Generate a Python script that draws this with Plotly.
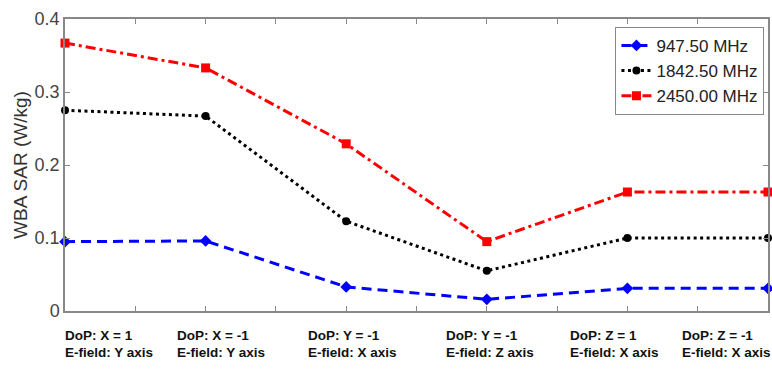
import plotly.graph_objects as go

categories = [0, 1, 2, 3, 4, 5]
label_line1 = ["DoP: X = 1", "DoP: X = -1", "DoP: Y = -1", "DoP: Y = -1", "DoP: Z = 1", "DoP: Z = -1"]
label_line2 = ["E-field: Y axis", "E-field: Y axis", "E-field: X axis", "E-field: Z axis", "E-field: X axis", "E-field: X axis"]
label_xpos = [0.0, 0.159, 0.346, 0.542, 0.719, 0.877]

sar_947 = [0.095, 0.096, 0.033, 0.016, 0.031, 0.031]
sar_1842 = [0.275, 0.267, 0.123, 0.055, 0.100, 0.100]
sar_2450 = [0.367, 0.333, 0.229, 0.095, 0.163, 0.163]

FONT = "Liberation Sans, Arial, sans-serif"

fig = go.Figure()
fig.add_trace(go.Scatter(x=categories, y=sar_947, name="947.50 MHz", mode="lines+markers",
                         line=dict(color="#0000ff", width=3, dash="10px,6px"),
                         marker=dict(symbol="diamond", size=9, color="#0000ff"), cliponaxis=False))
fig.add_trace(go.Scatter(x=categories, y=sar_1842, name="1842.50 MHz", mode="lines+markers",
                         line=dict(color="#000000", width=3, dash="3px,3.5px"),
                         marker=dict(symbol="circle", size=8, color="#000000"), cliponaxis=False))
fig.add_trace(go.Scatter(x=categories, y=sar_2450, name="2450.00 MHz", mode="lines+markers",
                         line=dict(color="#ff0000", width=3, dash="10px,4px,3px,4px"),
                         marker=dict(symbol="square", size=9, color="#ff0000"), cliponaxis=False))

annotations = []
for xp, l1, l2 in zip(label_xpos, label_line1, label_line2):
    annotations.append(dict(xref="paper", yref="paper", x=xp, y=-0.052, xanchor="left", yanchor="top",
                            text="<b>" + l1 + "</b>", showarrow=False, xshift=-2,
                            font=dict(family=FONT, size=13.5, color="#111111")))
    annotations.append(dict(xref="paper", yref="paper", x=xp, y=-0.110, xanchor="left", yanchor="top",
                            text="<b>" + l2 + "</b>", showarrow=False, xshift=-2,
                            font=dict(family=FONT, size=13.5, color="#111111")))

fig.update_layout(
    width=772, height=373,
    margin=dict(l=65, r=2, t=19, b=62),
    plot_bgcolor="white", paper_bgcolor="white",
    font=dict(family=FONT, color="#333333"),
    showlegend=True,
    legend=dict(x=0.783, y=0.973, xanchor="left", yanchor="top",
                bgcolor="white", bordercolor="#888888", borderwidth=1,
                font=dict(family=FONT, size=17, color="#222222"),
                tracegroupgap=0, itemwidth=30),
    annotations=annotations,
)
fig.update_xaxes(range=[0, 5], dtick=0.5, tick0=0, showticklabels=False, ticks="inside", ticklen=5,
                 tickcolor="#888888", showline=True, linecolor="#888888", linewidth=1.5, mirror="ticks",
                 showgrid=False, zeroline=False)
fig.update_yaxes(range=[0, 0.4], dtick=0.1, tickvals=[0, 0.1, 0.2, 0.3, 0.4],
                 ticktext=["0", "0.1", "0.2", "0.3", "0.4"],
                 ticks="inside", ticklen=5, tickcolor="#888888",
                 showline=True, linecolor="#888888", linewidth=1.5, mirror="ticks",
                 showgrid=False, zeroline=False,
                 tickfont=dict(family=FONT, size=18, color="#444444"),
                 title=dict(text="WBA SAR (W/kg)", standoff=2,
                            font=dict(family=FONT, size=19, color="#333333")))

fig.write_html("out.html")
